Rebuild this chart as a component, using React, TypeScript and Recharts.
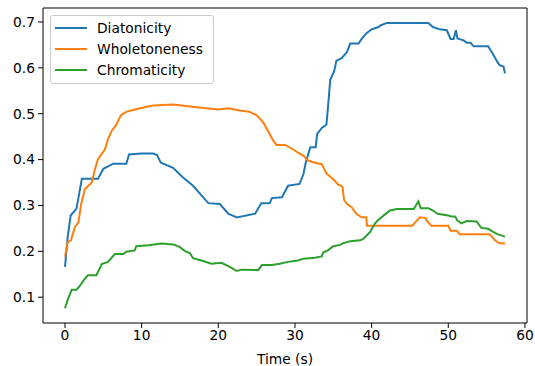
import React from "react";
import {
  LineChart,
  Line,
  XAxis,
  YAxis,
  ReferenceArea,
  Label,
} from "recharts";

// ── Data ────────────────────────────────────────────────────────

const diaTime = [
  0, 0.35, 0.74, 1.5, 2.2, 4.3, 5.0, 6.3, 8.0, 8.35, 10, 11.5, 12.0, 12.5, 14.1,
  15.4, 16.7, 18.0, 18.7, 20.2, 21.3, 22.4, 24.8, 25.6, 26.7, 27.0, 28.3, 29.1,
  30.6, 31.1, 31.4, 32.0, 32.7, 32.9, 33.5, 34.1, 34.3, 34.6, 35.1, 35.4, 36.1,
  36.8, 37.2, 38.3, 38.7, 39.3, 40.0, 40.9, 41.2, 42.0, 47.4, 48.0, 48.9, 49.8,
  50.3, 50.7, 51.0, 51.2, 52.0, 52.4, 52.9, 53.3, 55.2, 55.9, 56.4, 56.7, 57.2,
  57.4,
];
const diaValue = [
  0.166, 0.231, 0.278, 0.293, 0.358, 0.358, 0.38, 0.391, 0.391, 0.411, 0.413,
  0.413, 0.41, 0.393, 0.382, 0.361, 0.343, 0.318, 0.305, 0.303, 0.282, 0.274,
  0.282, 0.305, 0.305, 0.316, 0.318, 0.343, 0.347, 0.368, 0.393, 0.427, 0.427,
  0.456, 0.469, 0.476, 0.512, 0.574, 0.592, 0.615, 0.621, 0.635, 0.653, 0.653,
  0.663, 0.675, 0.684, 0.689, 0.693, 0.698, 0.698, 0.689, 0.684, 0.682, 0.663,
  0.663, 0.682, 0.664, 0.66, 0.655, 0.655, 0.647, 0.647, 0.628, 0.613, 0.606,
  0.603, 0.588,
];

const wholeTime = [
  0, 0.35, 0.78, 1.3, 1.75, 2.1, 2.6, 3.5, 3.9, 4.3, 5.2, 5.6, 6.1, 6.7, 7.3,
  8.0, 9.1, 10.4, 11.5, 14.1, 17.2, 20.0, 21.3, 22.8, 24.1, 25.0, 25.9, 26.5,
  27.2, 27.6, 28.7, 29.8, 30.4, 31.1, 31.7, 32.6, 33.5, 34.1, 35.0, 35.6, 36.2,
  36.4, 36.8, 37.4, 38.0, 38.7, 39.3, 39.4, 45.3, 45.9, 46.3, 47.0, 47.4, 47.8,
  50.0, 50.3, 51.1, 51.5, 55.4, 56.1, 56.6, 57.4,
];
const wholeValue = [
  0.188, 0.22, 0.224, 0.253, 0.263, 0.303, 0.336, 0.35, 0.379, 0.401, 0.422,
  0.444, 0.463, 0.476, 0.497, 0.504, 0.509, 0.514, 0.518, 0.52, 0.514, 0.509,
  0.512, 0.507, 0.504, 0.497, 0.48, 0.462, 0.44, 0.432, 0.432, 0.422, 0.415,
  0.408, 0.398, 0.393, 0.39, 0.37, 0.357, 0.346, 0.341, 0.312, 0.303, 0.296,
  0.282, 0.274, 0.274, 0.256, 0.256, 0.267, 0.274, 0.273, 0.263, 0.256, 0.256,
  0.245, 0.245, 0.237, 0.237, 0.224, 0.218, 0.217,
];

const chromTime = [
  0, 0.35, 0.87, 1.5, 2.0, 2.4, 3.0, 4.1, 4.8, 5.6, 6.5, 7.6, 8.0, 9.1, 9.3,
  10.9, 12.6, 14.1, 15.0, 15.7, 16.3, 16.7, 17.8, 19.1, 20.4, 21.5, 22.4, 23.0,
  25.2, 25.7, 27.0, 28.0, 29.1, 30.4, 31.1, 32.6, 33.5, 33.7, 34.3, 35.0, 35.9,
  36.3, 37.2, 38.5, 38.9, 39.8, 40.4, 40.9, 41.7, 42.4, 43.3, 45.5, 46.1, 46.4,
  47.4, 48.0, 48.6, 50.0, 50.4, 50.9, 51.2, 51.7, 52.4, 53.7, 54.3, 55.2, 55.9,
  56.5, 57.4,
];
const chromValue = [
  0.076, 0.094, 0.116, 0.116, 0.126, 0.136, 0.148, 0.148, 0.172, 0.177, 0.194,
  0.194, 0.199, 0.202, 0.211, 0.213, 0.217, 0.215, 0.209, 0.2, 0.196, 0.185,
  0.18, 0.173, 0.175, 0.166, 0.157, 0.16, 0.159, 0.17, 0.17, 0.173, 0.177,
  0.18, 0.184, 0.186, 0.189, 0.198, 0.202, 0.211, 0.214, 0.218, 0.222, 0.224,
  0.227, 0.242, 0.26, 0.269, 0.28, 0.289, 0.292, 0.292, 0.309, 0.294, 0.294,
  0.289, 0.282, 0.278, 0.276, 0.276, 0.267, 0.261, 0.266, 0.265, 0.251, 0.249,
  0.242, 0.237, 0.232,
];

const seriesNames = ["Diatonicity", "Wholetoneness", "Chromaticity"];
const seriesColors = ["#1f77b4", "#ff7f0e", "#2ca02c"];
const xTicks = [0, 10, 20, 30, 40, 50, 60];
const yTicks = [0.1, 0.2, 0.3, 0.4, 0.5, 0.6, 0.7];

const X_DOMAIN: [number, number] = [-2.87, 60.27];
const Y_DOMAIN: [number, number] = [0.0437, 0.7305];
const FONT = "DejaVu Sans, sans-serif";
const FS = 13.8;

const zip = (ts: number[], vs: number[]) => ts.map((t, i) => ({ t, v: vs[i] }));
const series = [
  zip(diaTime, diaValue),
  zip(wholeTime, wholeValue),
  zip(chromTime, chromValue),
];

// ── Legend (matplotlib-style box, overlaid on the plot) ─────────

function LegendBox() {
  return (
    <div
      style={{
        position: "absolute",
        left: 50,
        top: 15,
        width: 162,
        height: 67,
        border: "1px solid #cccccc",
        borderRadius: 3,
        background: "rgba(255,255,255,0.8)",
        fontFamily: FONT,
        fontSize: FS,
        color: "#000",
      }}
    >
      {seriesNames.map((name, i) => (
        <div
          key={name}
          style={{
            position: "absolute",
            left: 4,
            top: 1.5 + i * 21.3,
            height: 20,
            display: "flex",
            alignItems: "center",
          }}
        >
          <svg width={32} height={4} style={{ display: "block" }}>
            <line x1={0} y1={2} x2={32} y2={2} stroke={seriesColors[i]} strokeWidth={2} />
          </svg>
          <span style={{ marginLeft: 10, whiteSpace: "nowrap" }}>{name}</span>
        </div>
      ))}
    </div>
  );
}

export default function App() {
  return (
    <div style={{ position: "absolute", left: 0, top: 0, width: 535, height: 366, background: "#fff" }}>
      <LineChart width={535} height={366} margin={{ top: 8, right: 8, left: 0, bottom: 0 }}>
        <XAxis
          type="number"
          dataKey="t"
          domain={X_DOMAIN}
          allowDataOverflow
          ticks={xTicks}
          interval={0}
          height={43}
          axisLine={false}
          tickSize={5}
          tickMargin={2}
          tickLine={{ stroke: "#000" }}
          tick={{ fill: "#000", fontSize: FS, fontFamily: FONT }}
        >
          <Label
            value="Time (s)"
            position="insideBottom"
            offset={2}
            style={{ fill: "#000", fontSize: FS, fontFamily: FONT }}
          />
        </XAxis>
        <YAxis
          type="number"
          domain={Y_DOMAIN}
          allowDataOverflow
          ticks={yTicks}
          interval={0}
          width={43}
          axisLine={false}
          tickSize={5}
          tickMargin={3}
          tickLine={{ stroke: "#000" }}
          tickFormatter={(v: number) => v.toFixed(1)}
          tick={{ fill: "#000", fontSize: FS, fontFamily: FONT }}
        />
        <ReferenceArea
          x1={X_DOMAIN[0]}
          x2={X_DOMAIN[1]}
          y1={Y_DOMAIN[0]}
          y2={Y_DOMAIN[1]}
          fill="none"
          stroke="#000"
          strokeWidth={1}
          ifOverflow="visible"
        />
        {series.map((d, i) => (
          <Line
            key={seriesNames[i]}
            data={d}
            dataKey="v"
            name={seriesNames[i]}
            type="linear"
            stroke={seriesColors[i]}
            strokeWidth={2}
            dot={false}
            activeDot={false}
            isAnimationActive={false}
          />
        ))}
      </LineChart>
      <LegendBox />
    </div>
  );
}
